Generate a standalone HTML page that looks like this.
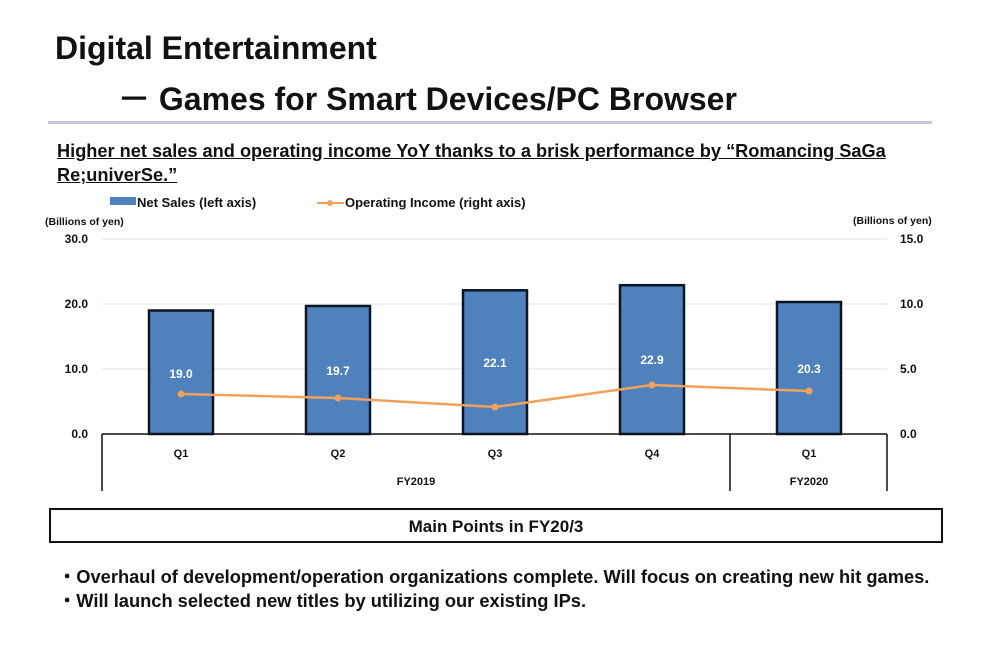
<!DOCTYPE html>
<html><head><meta charset="utf-8"><style>
body{margin:0;width:1000px;height:668px;background:#fff;font-family:"Liberation Sans","DejaVu Sans",sans-serif;overflow:hidden;position:relative}
.t{position:absolute;white-space:nowrap;color:#111}
</style></head><body>
<div class="t" style="left:55px;top:30px;font-size:32px;font-weight:bold">Digital Entertainment</div>
<div class="t" style="left:118px;top:74px;font-size:32px;font-weight:bold">－ Games for Smart Devices/PC Browser</div>
<div style="position:absolute;left:48px;top:121px;width:884px;height:3px;background:#c9c3dd"></div>
<div class="t" style="left:57px;top:139px;font-size:18.2px;font-weight:bold;text-decoration:underline;line-height:24px">Higher net sales and operating income YoY thanks to a brisk performance by “Romancing SaGa<br>Re;univerSe.”</div>
<svg width="1000" height="668" style="position:absolute;left:0;top:0" font-family="Liberation Sans, sans-serif" font-weight="bold">
<rect x="110" y="197" width="26" height="8" fill="#4f81bd"/>
<text x="137" y="207" font-size="13" fill="#111">Net Sales (left axis)</text>
<line x1="317" y1="203" x2="344" y2="203" stroke="#f0a15e" stroke-width="2"/>
<circle cx="330" cy="203" r="3" fill="#f0a15e"/>
<text x="345" y="207" font-size="13" fill="#111">Operating Income (right axis)</text>
<text x="45" y="225" font-size="10.5" fill="#111">(Billions of yen)</text>
<text x="853" y="224" font-size="10.5" fill="#111">(Billions of yen)</text>
<g stroke="#e2e2e2" stroke-width="1">
<line x1="102" y1="239" x2="887" y2="239"/><line x1="102" y1="304" x2="887" y2="304"/><line x1="102" y1="369" x2="887" y2="369"/></g>
<g font-size="12" fill="#111" text-anchor="end">
<text x="88" y="243">30.0</text><text x="88" y="308">20.0</text><text x="88" y="373">10.0</text><text x="88" y="438">0.0</text></g>
<g font-size="12" fill="#111">
<text x="900" y="243">15.0</text><text x="900" y="308">10.0</text><text x="900" y="373">5.0</text><text x="900" y="438">0.0</text></g>
<g fill="#4f81bd" stroke="#0b1524" stroke-width="2.5">
<rect x="149" y="310.5" width="64" height="123.5"/>
<rect x="306" y="306" width="64" height="128"/>
<rect x="463" y="290.3" width="64" height="143.7"/>
<rect x="620" y="285.2" width="64" height="148.8"/>
<rect x="777" y="302" width="64" height="132"/></g>
<g font-size="12" fill="#fff" text-anchor="middle">
<text x="181" y="378">19.0</text><text x="338" y="375">19.7</text><text x="495" y="367">22.1</text><text x="652" y="364">22.9</text><text x="809" y="373">20.3</text></g>
<polyline points="181,394 338,398 495,407 652,385 809,391" fill="none" stroke="#f0a15e" stroke-width="2.5"/>
<g fill="#f0a15e"><circle cx="181" cy="394" r="3.5"/><circle cx="338" cy="398" r="3.5"/><circle cx="495" cy="407" r="3.5"/><circle cx="652" cy="385" r="3.5"/><circle cx="809" cy="391" r="3.5"/></g>
<g stroke="#111" stroke-width="1.5">
<line x1="102" y1="434" x2="887" y2="434"/>
<line x1="102" y1="434" x2="102" y2="491"/>
<line x1="730" y1="434" x2="730" y2="491"/>
<line x1="887" y1="434" x2="887" y2="491"/></g>
<g font-size="11" fill="#111" text-anchor="middle">
<text x="181" y="457">Q1</text><text x="338" y="457">Q2</text><text x="495" y="457">Q3</text><text x="652" y="457">Q4</text><text x="809" y="457">Q1</text>
<text x="416" y="485">FY2019</text><text x="809" y="485">FY2020</text></g>
<rect x="50" y="509" width="892" height="33" fill="none" stroke="#111" stroke-width="2"/>
<text x="496" y="532" font-size="17" fill="#111" text-anchor="middle">Main Points in FY20/3</text>
</svg>
<div class="t" style="left:58px;top:565px;font-size:18.3px;font-weight:bold;line-height:24px">・Overhaul of development/operation organizations complete. Will focus on creating new hit games.<br>・Will launch selected new titles by utilizing our existing IPs.</div>
</body></html>
